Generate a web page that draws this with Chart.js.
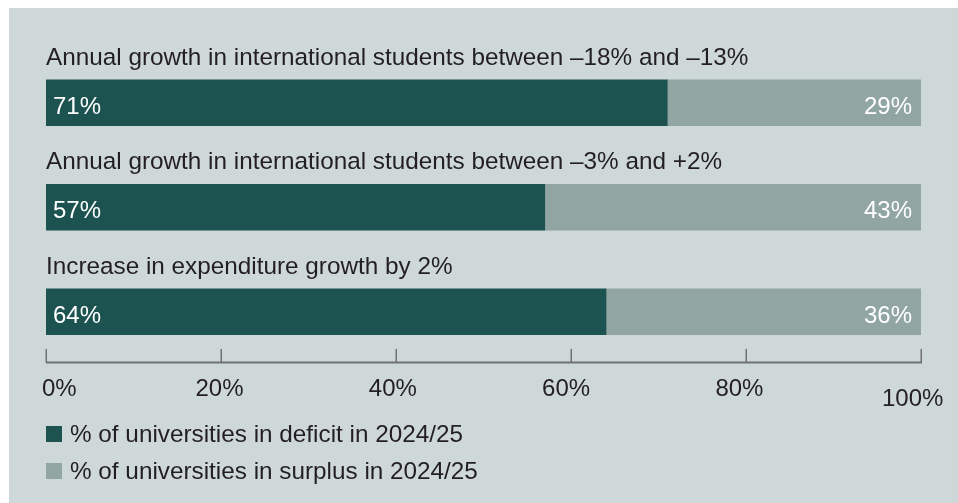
<!DOCTYPE html>
<html>
<head>
<meta charset="utf-8">
<script src="https://cdn.jsdelivr.net/npm/chart.js@4/dist/chart.umd.min.js"></script>
<style>
  html, body { margin: 0; padding: 0; background: #ffffff; }
  #wrap { position: relative; width: 958px; height: 503px; overflow: hidden; }
  #panel { position: absolute; left: 9px; top: 8px; right: 0; bottom: 0; background: #ced8d9; }
  #c { position: absolute; left: 0; top: 0; }
</style>
</head>
<body>
<div id="wrap">
  <div id="panel"></div>
  <canvas id="c" width="958" height="503"></canvas>
</div>
<script>
// Scenario descriptions (one bar each)
const scenarios = [
  'Annual growth in international students between \u201318% and \u201313%',
  'Annual growth in international students between \u20133% and +2%',
  'Increase in expenditure growth by 2%'
];
// Share of universities in deficit / surplus, per scenario (%)
const deficitShare = [71, 57, 64];
const surplusShare = [29, 43, 36];
// Axis tick values and legend entries
const axisTicks = [0, 20, 40, 60, 80, 100];
const seriesNames = [
  '% of universities in deficit in 2024/25',
  '% of universities in surplus in 2024/25'
];

const DARK = '#1c5350';
const LIGHT = '#91a5a2';
const INK = '#231f20';
const AXIS = '#6e7071';
const FONT = '"Liberation Sans", Arial, Helvetica, sans-serif';

const annotate = {
  id: 'annotate',
  afterDatasetsDraw(chart) {
    const ctx = chart.ctx;
    const xs = chart.scales.x;
    const area = chart.chartArea;
    const dark = chart.getDatasetMeta(0).data;
    const light = chart.getDatasetMeta(1).data;
    ctx.save();

    // scenario titles above each bar, value labels inside the segments
    dark.forEach((bar, i) => {
      const half = bar.height / 2;
      ctx.fillStyle = INK;
      ctx.font = '24.3px ' + FONT;
      ctx.textAlign = 'left';
      ctx.textBaseline = 'alphabetic';
      ctx.fillText(scenarios[i], area.left, bar.y - half - 15);

      ctx.fillStyle = '#ffffff';
      ctx.font = '24px ' + FONT;
      ctx.textAlign = 'left';
      ctx.fillText(deficitShare[i] + '%', bar.base + 7, bar.y + 11);
      const lb = light[i];
      ctx.textAlign = 'right';
      ctx.fillText(surplusShare[i] + '%', lb.x - 9, lb.y + 11);
    });

    // axis line with upward tick marks
    const y0 = 362.5;
    ctx.strokeStyle = AXIS;
    ctx.lineWidth = 2;
    ctx.beginPath();
    ctx.moveTo(xs.getPixelForValue(0), y0);
    ctx.lineTo(xs.getPixelForValue(100) + 1, y0);
    ctx.stroke();
    ctx.lineWidth = 1.5;
    axisTicks.forEach(v => {
      const px = Math.round(xs.getPixelForValue(v)) + 0.25;
      ctx.beginPath();
      ctx.moveTo(px, 349);
      ctx.lineTo(px, y0);
      ctx.stroke();
    });

    // tick labels: first one starts at its tick, the rest sit just left of centre
    ctx.fillStyle = INK;
    ctx.font = '24px ' + FONT;
    axisTicks.forEach(v => {
      const tx = xs.getPixelForValue(v);
      const by = v === 100 ? 406 : 396;
      if (v === 0) {
        ctx.textAlign = 'left';
        ctx.fillText(v + '%', tx - 4, by);
      } else {
        ctx.textAlign = 'center';
        ctx.fillText(v + '%', tx + 0.2 - v * 0.085, by);
      }
    });

    // legend
    const colors = [DARK, LIGHT];
    const rows = [426, 463];
    ctx.font = '24.3px ' + FONT;
    seriesNames.forEach((name, i) => {
      ctx.fillStyle = colors[i];
      ctx.fillRect(area.left, rows[i], 16, 16);
      ctx.fillStyle = INK;
      ctx.textAlign = 'left';
      ctx.fillText(name, area.left + 24, rows[i] + 16);
    });

    ctx.restore();
  }
};

new Chart(document.getElementById('c'), {
  type: 'bar',
  data: {
    labels: scenarios,
    datasets: [
      { label: seriesNames[0], data: deficitShare, backgroundColor: DARK, barThickness: 46 },
      { label: seriesNames[1], data: surplusShare, backgroundColor: LIGHT, barThickness: 46 }
    ]
  },
  options: {
    indexAxis: 'y',
    responsive: false,
    animation: false,
    events: [],
    layout: { padding: { left: 46, right: 37, top: 50.5, bottom: 139 } },
    scales: {
      x: { stacked: true, min: 0, max: 100, display: false },
      y: { stacked: true, display: false }
    },
    plugins: {
      legend: { display: false },
      tooltip: { enabled: false }
    }
  },
  plugins: [annotate]
});
</script>
</body>
</html>
